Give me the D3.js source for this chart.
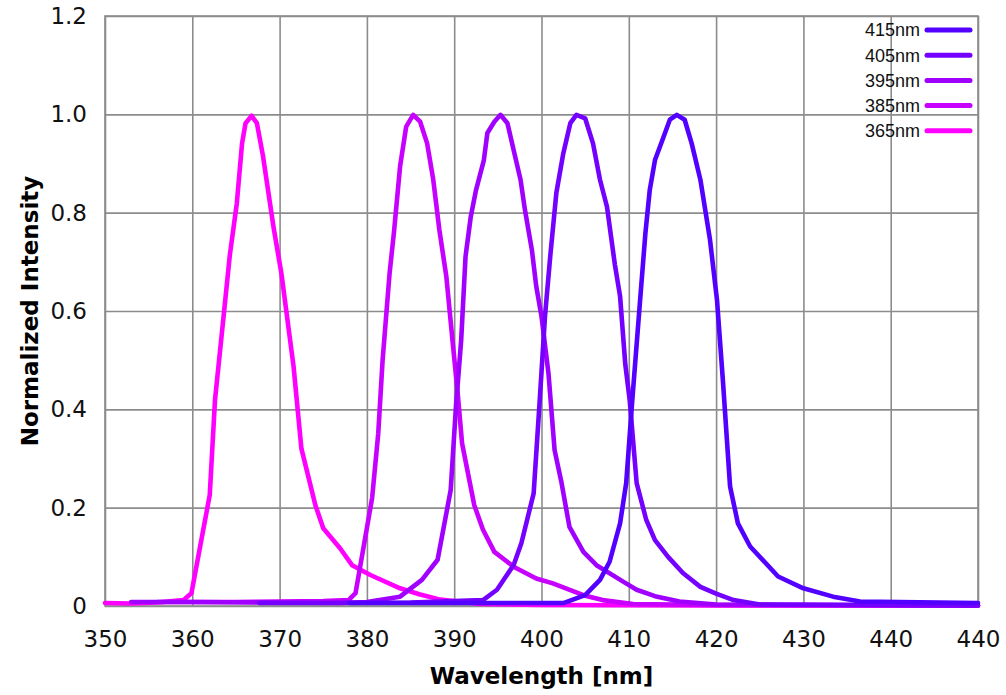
<!DOCTYPE html>
<html>
<head>
<meta charset="utf-8">
<script src="https://cdn.jsdelivr.net/npm/d3@7"></script>
<style>
  body { margin: 0; background: #fff; }
  svg { display: block; }
</style>
</head>
<body>
<script>
// spectra: [wavelength nm, normalized intensity]
var s365 = [[350,0.006],[353,0.005],[356,0.007],[359,0.012],[359.9,0.026],[362.0,0.226],[362.6,0.419],[363.7,0.609],[364.3,0.714],[365.1,0.819],[365.7,0.941],[366.1,0.982],[366.8,0.997],[367.4,0.982],[368.1,0.915],[369.3,0.771],[370.2,0.677],[371.6,0.487],[372.5,0.32],[374.1,0.205],[375.0,0.158],[376.9,0.118],[378.3,0.083],[380.4,0.063],[383.8,0.036],[386,0.024],[388.4,0.013],[393,0.004],[400,0.002],[420,0.001],[450,0.001]];
var s385 = [[356,0.008],[365,0.008],[370,0.009],[375,0.01],[377.9,0.012],[378.7,0.026],[380.6,0.22],[381.3,0.351],[381.8,0.5],[382.6,0.677],[383.1,0.76],[383.8,0.894],[384.5,0.975],[385.3,0.999],[386.1,0.985],[386.9,0.941],[387.6,0.867],[388.3,0.765],[389.1,0.670],[389.8,0.541],[390.4,0.433],[390.9,0.331],[392.3,0.205],[393.3,0.155],[394.6,0.110],[396.8,0.080],[399.4,0.056],[401.3,0.046],[404.8,0.022],[407,0.012],[410.5,0.004],[420,0.002],[450,0.001]];
var s395 = [[353,0.008],[360,0.008],[370,0.007],[376.9,0.006],[380,0.008],[383.8,0.019],[386.3,0.053],[388.1,0.094],[389.6,0.236],[390.2,0.405],[390.8,0.541],[391.3,0.711],[391.9,0.792],[392.5,0.846],[393.4,0.907],[393.8,0.962],[394.6,0.985],[395.3,0.999],[396.1,0.982],[396.8,0.928],[397.6,0.867],[398.1,0.806],[398.9,0.724],[399.4,0.650],[400.0,0.589],[400.8,0.473],[401.5,0.317],[402.3,0.25],[403.2,0.161],[404.8,0.110],[406.3,0.083],[409.4,0.049],[410.9,0.033],[413,0.02],[415.8,0.009],[420,0.003],[450,0.001]];
var s405 = [[367.7,0.006],[375,0.006],[385,0.007],[393.3,0.012],[394.9,0.033],[396.8,0.083],[397.7,0.128],[399.1,0.229],[399.8,0.419],[400.4,0.589],[401.0,0.711],[401.7,0.840],[402.5,0.921],[403.3,0.982],[404.0,0.999],[405.0,0.992],[405.9,0.941],[406.7,0.867],[407.5,0.812],[408.4,0.695],[409.0,0.63],[409.6,0.491],[410.1,0.419],[410.9,0.25],[412.0,0.175],[413.0,0.134],[414.5,0.1],[416.2,0.067],[418.2,0.039],[420,0.025],[422.0,0.012],[425.0,0.003],[450,0.001]];
var s415 = [[378,0.006],[390,0.006],[402.5,0.006],[405.0,0.022],[406.7,0.053],[407.8,0.090],[409.0,0.168],[409.7,0.25],[410.4,0.419],[411.3,0.623],[411.9,0.758],[412.4,0.846],[413.0,0.907],[414.0,0.955],[414.7,0.989],[415.5,0.999],[416.4,0.989],[417.2,0.941],[418.2,0.867],[419.3,0.745],[420.1,0.623],[420.8,0.453],[421.6,0.243],[422.5,0.168],[423.9,0.121],[427.1,0.060],[430.0,0.036],[433.4,0.019],[436.5,0.009],[450,0.006]];

var seriesNames = ["365nm", "385nm", "395nm", "405nm", "415nm"];
var seriesData = [s365, s385, s395, s405, s415];
var seriesColors = ["#ff00ff", "#c800ff", "#a000ff", "#7400ff", "#5200ff"];

var xTicks = [350, 360, 370, 380, 390, 400, 410, 420, 430, 440, 450];
var xLabels = ["350", "360", "370", "380", "390", "400", "410", "420", "430", "440", "440"];
var yTicks = [0, 0.2, 0.4, 0.6, 0.8, 1.0, 1.2];
var yLabels = ["0", "0.2", "0.4", "0.6", "0.8", "1.0", "1.2"];

var margin = {top: 16, right: 28, bottom: 89, left: 105},
    width = 1006 - margin.left - margin.right,
    height = 695 - margin.top - margin.bottom;

var x = d3.scaleLinear().domain([350, 450]).range([0, width]);
var y = d3.scaleLinear().domain([0, 1.2]).range([height, 0]);

var svg = d3.select("body").append("svg")
    .attr("width", width + margin.left + margin.right)
    .attr("height", height + margin.top + margin.bottom)
  .append("g")
    .attr("transform", "translate(" + margin.left + "," + margin.top + ")");

var gridColor = "#8c8c8c";

// gridlines
svg.append("g")
    .attr("class", "grid")
    .call(d3.axisBottom(x).tickValues(xTicks).tickSize(height).tickFormat(""))
    .call(function(g) { g.select(".domain").remove(); });
svg.append("g")
    .attr("class", "grid")
    .call(d3.axisLeft(y).tickValues(yTicks).tickSize(-width).tickFormat(""))
    .call(function(g) { g.select(".domain").remove(); });
svg.selectAll(".grid line")
    .attr("stroke", gridColor)
    .attr("stroke-width", 1.6);

svg.append("rect")
    .attr("width", width)
    .attr("height", height)
    .attr("fill", "none")
    .attr("stroke", gridColor)
    .attr("stroke-width", 1.6);

// tick labels
var xAxis = svg.append("g")
    .attr("transform", "translate(0," + height + ")")
    .call(d3.axisBottom(x).tickValues(xTicks).tickSize(0).tickPadding(25)
      .tickFormat(function(d, i) { return xLabels[i]; }));
var yAxis = svg.append("g")
    .call(d3.axisLeft(y).tickValues(yTicks).tickSize(0).tickPadding(18)
      .tickFormat(function(d, i) { return yLabels[i]; }));
[xAxis, yAxis].forEach(function(a) {
  a.select(".domain").remove();
  a.selectAll("text")
    .attr("fill", "#111")
    .style("font-family", "'DejaVu Sans', sans-serif")
    .style("font-size", "23px");
});

// curves
var line = d3.line()
    .x(function(d) { return x(d[0]); })
    .y(function(d) { return y(d[1]); });

svg.selectAll(".spec")
    .data(seriesData)
  .enter().append("path")
    .attr("class", "spec")
    .attr("d", line)
    .attr("fill", "none")
    .attr("stroke", function(d, i) { return seriesColors[i]; })
    .attr("stroke-width", 4.6)
    .attr("stroke-linejoin", "round")
    .attr("stroke-linecap", "round");

// legend, 415nm on top
var legend = svg.append("g")
    .attr("transform", "translate(" + (920 - margin.left) + "," + (30 - margin.top) + ")");
var order = [4, 3, 2, 1, 0];
order.forEach(function(k, i) {
  var row = legend.append("g").attr("transform", "translate(0," + (i * 25.2) + ")");
  row.append("text")
      .attr("text-anchor", "end")
      .attr("dy", "0.35em")
      .attr("fill", "#111")
      .style("font-family", "'Liberation Sans', Arial, sans-serif")
      .style("font-size", "18px")
      .text(seriesNames[k]);
  row.append("line")
      .attr("x1", 7).attr("x2", 50)
      .attr("stroke", seriesColors[k])
      .attr("stroke-width", 5)
      .attr("stroke-linecap", "round");
});

// axis titles
svg.append("text")
    .attr("x", width / 2)
    .attr("y", height + 78)
    .attr("text-anchor", "middle")
    .attr("fill", "#000")
    .style("font-family", "'DejaVu Sans', sans-serif")
    .style("font-weight", "bold")
    .style("font-size", "23px")
    .text("Wavelength [nm]");

svg.append("text")
    .attr("transform", "translate(" + (38 - margin.left) + "," + (height / 2) + ") rotate(-90)")
    .attr("text-anchor", "middle")
    .attr("fill", "#000")
    .style("font-family", "'DejaVu Sans', sans-serif")
    .style("font-weight", "bold")
    .style("font-size", "23px")
    .text("Normalized Intensity");
</script>
</body>
</html>
